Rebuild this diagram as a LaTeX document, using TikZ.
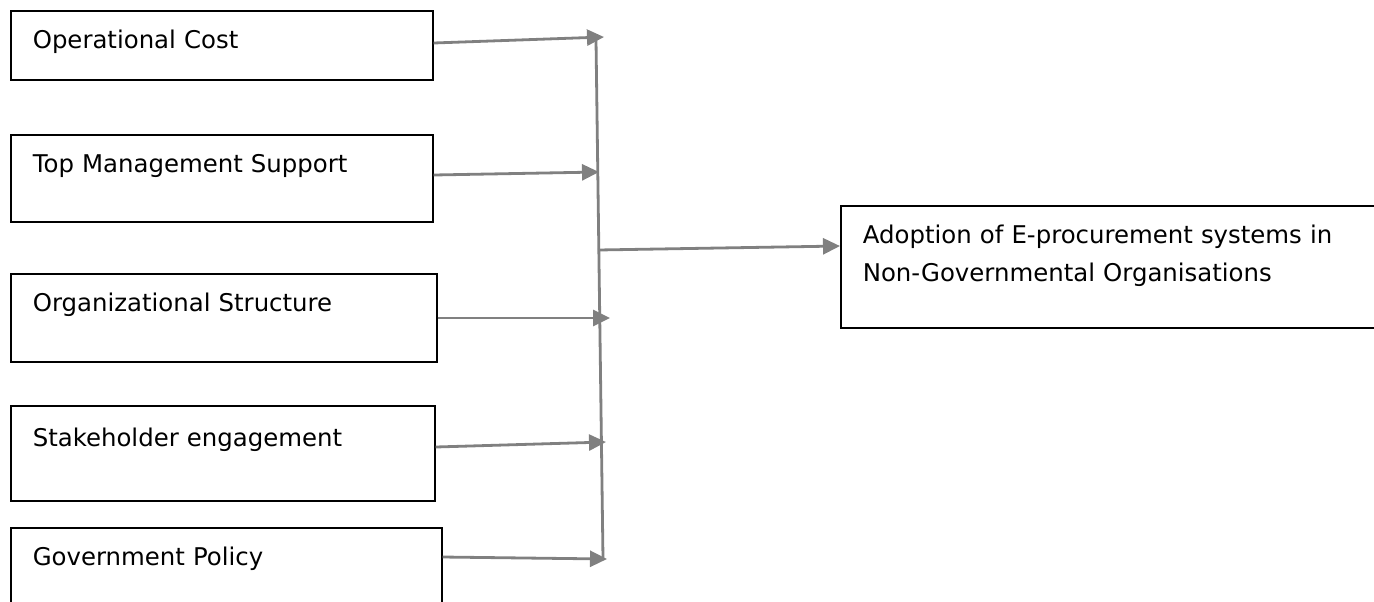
\documentclass[tikz,border=0pt]{standalone}
\usepackage{fontspec}
\setmainfont{DejaVu Sans}
\usetikzlibrary{arrows.meta, positioning}
\definecolor{linkgray}{HTML}{808080}
\begin{document}
\begin{tikzpicture}[
        x=0.5pt, y=-0.5pt,
        factor/.style={draw=black, line width=0.8pt, anchor=north west, inner xsep=11pt, inner ysep=0pt,
            align=left, text height=19pt, font=\fontsize{12.2}{19}\selectfont},
        connection/.style={-{Triangle[length=8.5pt, width=8pt]}, draw=linkgray, line width=1.4pt},
    ]
        \useasboundingbox (0,0) rectangle (1374,601);

        % Factors
        \node[factor, text width=189pt, text depth=15.5pt] (op) at (10,10) {Operational Cost};
        \node[factor, text width=189pt, text depth=24.5pt] (tm) at (10,134) {Top Management Support};
        \node[factor, text width=191pt, text depth=25pt] (os) at (10,273) {Organizational Structure};
        \node[factor, text width=190pt, text height=20.5pt, text depth=27pt] (se) at (10,405) {Stakeholder engagement};
        \node[factor, text width=193.5pt, text depth=31pt] (gp) at (10,527) {Government Policy};

        % Outcome
        \node[factor, text width=300pt, text depth=42pt] (ad) at (840,205)
            {Adoption of E-procurement systems in\\Non-Governmental Organisations};

        % Arrow tips on the bus
        \coordinate (t1) at (604,37);
        \coordinate (t2) at (599,172);
        \coordinate (t3) at (610,318);
        \coordinate (t4) at (606,442);
        \coordinate (t5) at (607,559);
        \coordinate (bus top) at (596,40);
        \coordinate (bus bottom) at (603,559);
        \coordinate (bus out) at (598,250);

        % Factor connections
        \foreach \b/\s/\t in {op/16.5/t1, tm/20.5/t2, os/22.5/t3, se/21/t4, gp/15/t5}
            \draw[connection] ([yshift=-\s pt]\b.north east) -- (\t);

        % Bus and outcome connection
        \draw[linkgray, line width=1.4pt] (bus top) -- (bus bottom);
        \draw[connection] (bus out) -- ([yshift=-20.5pt]ad.north west);
    \end{tikzpicture}
\end{document}
